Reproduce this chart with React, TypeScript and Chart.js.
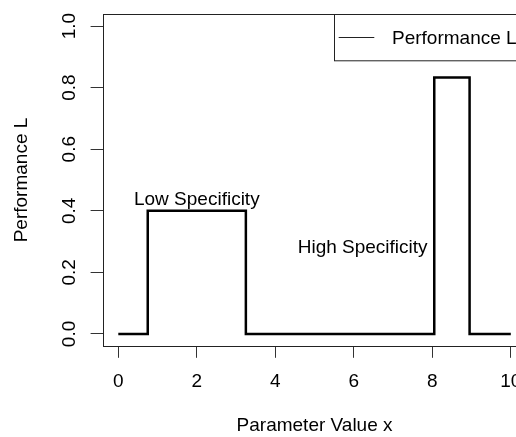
import React, { useEffect, useRef } from "react";
import { Chart, registerables } from "chart.js";

Chart.register(...registerables);

// ---- data ----
const xValues = [0, 0.75, 0.75, 3.25, 3.25, 8.05, 8.05, 8.95, 8.95, 10];
const yValues = [0, 0, 0.4, 0.4, 0, 0, 0.833, 0.833, 0, 0];
const seriesLabel = "Performance L";
const xTickValues = [0, 2, 4, 6, 8, 10];
const yTickValues = [0, 0.2, 0.4, 0.6, 0.8, 1.0];
const annotationTexts = ["Low Specificity", "High Specificity"];
const annotationX = [2, 7.88];
const annotationY = [0.442, 0.285];
const annotationAlign: CanvasTextAlign[] = ["center", "right"];
const xTitle = "Parameter Value x";
const yTitle = "Performance L";

const FONT = '"Liberation Sans", Arial, sans-serif';
const FS = 19;
const CANVAS_W = 527;
const CANVAS_H = 437;

const overlayPlugin = {
  id: "rOverlay",
  afterDatasetsDraw(chart: any) {
    const { ctx, chartArea: a, scales } = chart;
    ctx.save();
    // plot box
    ctx.strokeStyle = "#222";
    ctx.lineWidth = 1;
    ctx.strokeRect(Math.round(a.left) + 0.5, Math.round(a.top) + 0.5, a.right - a.left, Math.round(a.bottom) - Math.round(a.top));
    // annotations
    ctx.fillStyle = "#000";
    ctx.font = `${FS}px ${FONT}`;
    ctx.textBaseline = "alphabetic";
    annotationTexts.forEach((t, i) => {
      ctx.textAlign = annotationAlign[i];
      const px = scales.x.getPixelForValue(annotationX[i]);
      const py = scales.y.getPixelForValue(annotationY[i]) + (0.716 * FS) / 2;
      ctx.fillText(t, px, py);
    });
    // legend (top right, R style)
    const boxW = 192.5;
    const boxH = 46.3;
    const bl = a.right - boxW;
    const bt = a.top;
    ctx.strokeStyle = "#222";
    ctx.lineWidth = 1;
    ctx.strokeRect(Math.round(bl) + 0.5, Math.round(bt) + 0.5, boxW, boxH);
    const ly = Math.round(bt + 23) + 0.5;
    ctx.beginPath();
    ctx.moveTo(bl + 4.7, ly);
    ctx.lineTo(bl + 40.3, ly);
    ctx.stroke();
    ctx.textAlign = "left";
    ctx.textBaseline = "alphabetic";
    ctx.fillText(seriesLabel, bl + 58, bt + 23 + (0.716 * FS) / 2);
    ctx.restore();
  },
};

export default function App() {
  const ref = useRef<HTMLCanvasElement | null>(null);
  useEffect(() => {
    document.body.style.margin = "0";
    const canvas = ref.current!;
    const chart = new Chart(canvas, {
      type: "line",
      data: {
        datasets: [
          {
            label: seriesLabel,
            data: xValues.map((x, i) => ({ x, y: yValues[i] })),
            borderColor: "#000",
            borderWidth: 2.5,
            pointRadius: 0,
            tension: 0,
            fill: false,
          },
        ],
      },
      options: {
        responsive: false,
        animation: false,
        events: [],
        layout: { padding: { top: 13.7, left: 0, right: 0.5, bottom: 0 }, autoPadding: false } as any,
        plugins: { legend: { display: false }, tooltip: { enabled: false } },
        scales: {
          x: {
            type: "linear",
            min: -0.4,
            max: 10.4,
            afterBuildTicks: (s: any) => {
              s.ticks = xTickValues.map((v) => ({ value: v }));
            },
            afterFit: (s: any) => {
              s.height = CANVAS_H - 346.3;
              s.paddingLeft = 0;
              s.paddingRight = 0;
            },
            border: { display: false },
            grid: { drawOnChartArea: false, drawTicks: true, tickLength: 11.5, color: "#333", lineWidth: 1 },
            ticks: {
              font: { family: FONT, size: FS },
              color: "#000",
              padding: 13,
              maxRotation: 0,
              minRotation: 0,
              autoSkip: false,
              callback: (v: any) => String(v),
            },
            title: {
              display: true,
              text: xTitle,
              color: "#000",
              font: { family: FONT, size: FS },
              padding: { top: 0, bottom: 0 },
            },
          },
          y: {
            type: "linear",
            min: -0.04,
            max: 1.04,
            afterBuildTicks: (s: any) => {
              s.ticks = yTickValues.map((v) => ({ value: v }));
            },
            afterFit: (s: any) => {
              s.width = 102.6;
              s.paddingTop = 0;
              s.paddingBottom = 0;
            },
            border: { display: false },
            grid: { drawOnChartArea: false, drawTicks: true, tickLength: 12, color: "#333", lineWidth: 1 },
            ticks: {
              font: { family: FONT, size: FS },
              color: "#000",
              padding: 8,
              minRotation: 90,
              maxRotation: 90,
              crossAlign: "center",
              autoSkip: false,
              callback: (v: any) => Number(v).toFixed(1),
            },
            title: {
              display: true,
              text: yTitle,
              color: "#000",
              font: { family: FONT, size: FS },
              padding: { top: 10.6, bottom: 0 },
            },
          },
        },
      } as any,
      plugins: [overlayPlugin],
    });
    return () => chart.destroy();
  }, []);
  return (
    <div style={{ position: "fixed", left: 0, top: 0, width: 516, height: CANVAS_H, overflow: "hidden", background: "#fff" }}>
      <canvas ref={ref} width={CANVAS_W} height={CANVAS_H} style={{ width: CANVAS_W, height: CANVAS_H, display: "block" }} />
    </div>
  );
}
